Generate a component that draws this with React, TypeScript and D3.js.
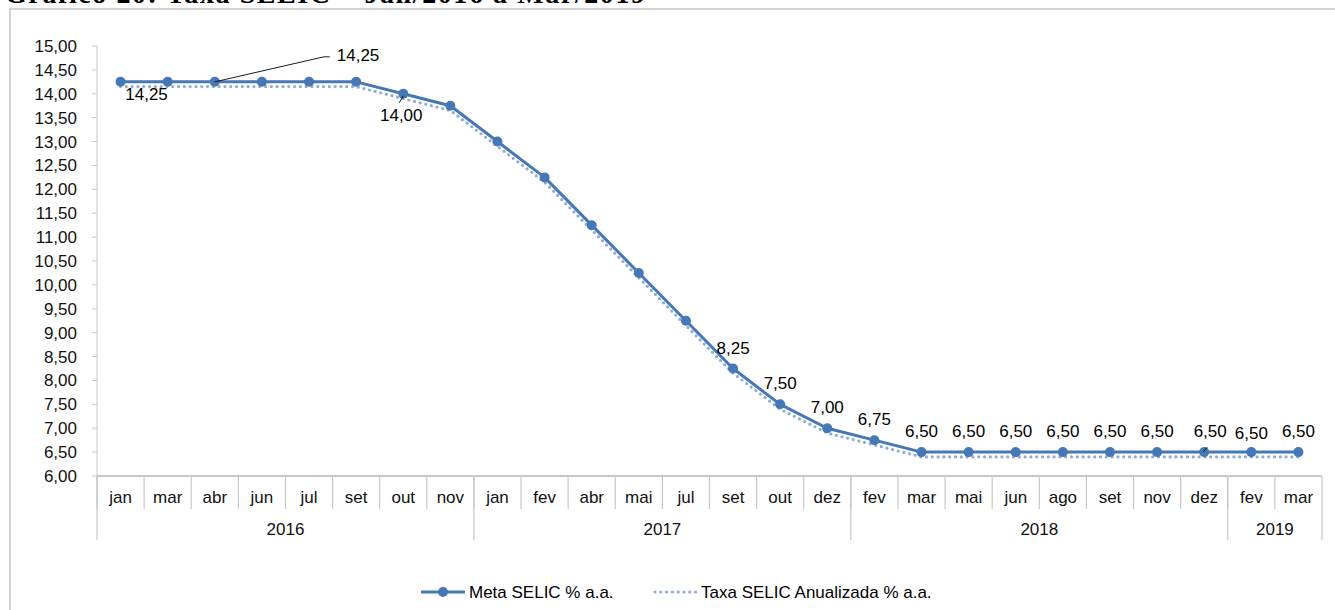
import React from "react";
import * as d3 from "d3";

// Month labels along the x axis, grouped by year
const months = [
  "jan", "mar", "abr", "jun", "jul", "set", "out", "nov",
  "jan", "fev", "abr", "mai", "jul", "set", "out", "dez",
  "fev", "mar", "mai", "jun", "ago", "set", "nov", "dez",
  "fev", "mar",
];
const years = [
  { label: "2016", start: 0, end: 8 },
  { label: "2017", start: 8, end: 16 },
  { label: "2018", start: 16, end: 24 },
  { label: "2019", start: 24, end: 26 },
];

// Meta SELIC % a.a. (Copom decisions)
const metaSelic = [
  14.25, 14.25, 14.25, 14.25, 14.25, 14.25, 14.0, 13.75,
  13.0, 12.25, 11.25, 10.25, 9.25, 8.25, 7.5, 7.0,
  6.75, 6.5, 6.5, 6.5, 6.5, 6.5, 6.5, 6.5,
  6.5, 6.5,
];
// Taxa SELIC anualizada % a.a.
const taxaSelic = [
  14.15, 14.15, 14.15, 14.15, 14.15, 14.15, 13.9, 13.65,
  12.9, 12.15, 11.15, 10.15, 9.15, 8.15, 7.4, 6.9,
  6.65, 6.4, 6.4, 6.4, 6.4, 6.4, 6.4, 6.4,
  6.4, 6.4,
];

const yTicks = d3.range(6, 15.001, 0.5);

// Data label placement (offsets from the marker)
type Note = { i: number; dx: number; dy: number; anchor?: string; leader?: number[][] };
const notes: Note[] = [
  { i: 0, dx: 26, dy: 18 },
  { i: 2, dx: 122, dy: -21, anchor: "start", leader: [[0, 0], [109, -25], [115, -25]] },
  { i: 6, dx: -2, dy: 27, leader: [[0, 2], [-4, 9]] },
  { i: 13, dx: 0, dy: -15 },
  { i: 14, dx: 0, dy: -15 },
  { i: 15, dx: 0, dy: -15 },
  { i: 16, dx: 0, dy: -15 },
  { i: 17, dx: 0, dy: -15 },
  { i: 18, dx: 0, dy: -15 },
  { i: 19, dx: 0, dy: -15 },
  { i: 20, dx: 0, dy: -15 },
  { i: 21, dx: 0, dy: -15 },
  { i: 22, dx: 0, dy: -15 },
  { i: 23, dx: 6, dy: -15, leader: [[3, -5], [-1, 0]] },
  { i: 24, dx: 0, dy: -13 },
  { i: 25, dx: 0, dy: -15 },
];

const W = 1335;
const H = 610;
const left = 97;
const right = 1322;
const top = 46;
const bottom = 476;

const FONT = "'Liberation Sans', Arial, sans-serif";
const SOLID = "#4677b6";
const DOTTED = "#8eaad8";
const AXIS = "#c8c8c8";

const fmt = (v: number) => d3.format(".2f")(v).replace(".", ",");

export default function App() {
  const idx = months.map((_, i) => i);
  const x = d3.scaleBand<number>().domain(idx).range([left, right]).padding(0);
  const y = d3.scaleLinear().domain([6, 15]).range([bottom, top]);
  const cx = (i: number) => (x(i) as number) + x.bandwidth() / 2;

  const line = d3
    .line<number>()
    .x((_, i) => cx(i))
    .y((d) => y(d));

  return (
    <svg
      width={W}
      height={H}
      style={{ position: "absolute", left: 0, top: 0, background: "#fff" }}
      fontFamily={FONT}
    >
      {/* title, partly above the visible page */}
      <text
        x={5}
        y={3}
        fontFamily="'Liberation Serif', 'Times New Roman', serif"
        fontWeight="bold"
        fontSize={28}
        textLength={640}
        lengthAdjust="spacing"
        fill="#000"
      >
        Gráfico 20: Taxa SELIC – Jan/2016 a Mar/2019
      </text>

      {/* chart frame */}
      <rect x={10} y={9} width={W + 20} height={H + 20} fill="none" stroke="#c4c4c4" strokeWidth={1.5} />

      {/* y axis */}
      <line x1={left} x2={left} y1={top} y2={bottom} stroke={AXIS} strokeWidth={1} />
      {yTicks.map((t) => (
        <g key={t}>
          <line x1={left - 5} x2={left} y1={y(t)} y2={y(t)} stroke={AXIS} strokeWidth={1} />
          <text x={77} y={y(t)} dy="0.35em" textAnchor="end" fontSize={17} fill="#111">
            {fmt(t)}
          </text>
        </g>
      ))}

      {/* x axis with month and year rows */}
      {idx.map((i) => (
        <g key={i}>
          <line x1={x(i)} x2={x(i)} y1={bottom} y2={509} stroke={AXIS} strokeWidth={1.2} />
          <text x={cx(i)} y={503} textAnchor="middle" fontSize={17} fill="#111">
            {months[i]}
          </text>
        </g>
      ))}
      {years.map((yr) => (
        <g key={yr.label}>
          <line x1={x(yr.start)} x2={x(yr.start)} y1={bottom} y2={540} stroke={AXIS} strokeWidth={1.2} />
          <text
            x={((x(yr.start) as number) + (x(yr.end - 1) as number) + x.bandwidth()) / 2}
            y={535}
            textAnchor="middle"
            fontSize={17}
            fill="#111"
          >
            {yr.label}
          </text>
        </g>
      ))}
      <line x1={right} x2={right} y1={bottom} y2={540} stroke={AXIS} strokeWidth={1.2} />
      <line x1={left} x2={right} y1={bottom} y2={bottom} stroke={AXIS} strokeWidth={2} />

      {/* Taxa SELIC anualizada (dotted) */}
      <path
        d={line(taxaSelic) || ""}
        fill="none"
        stroke={DOTTED}
        strokeWidth={3.2}
        strokeDasharray="0 5.8"
        strokeLinecap="round"
      />

      {/* Meta SELIC (solid with markers) */}
      <path d={line(metaSelic) || ""} fill="none" stroke={SOLID} strokeWidth={3} strokeLinejoin="round" />
      {metaSelic.map((v, i) => (
        <circle key={i} cx={cx(i)} cy={y(v)} r={5} fill={SOLID} />
      ))}

      {/* data labels */}
      {notes.map((n) => {
        const px = cx(n.i);
        const py = y(metaSelic[n.i]);
        return (
          <g key={n.i}>
            {n.leader && (
              <polyline
                points={n.leader.map(([a, b]) => `${px + a},${py + b}`).join(" ")}
                fill="none"
                stroke="#000"
                strokeWidth={0.9}
              />
            )}
            <text
              x={px + n.dx}
              y={py + n.dy}
              textAnchor={n.anchor || "middle"}
              fontSize={17}
              fill="#000"
            >
              {fmt(metaSelic[n.i])}
            </text>
          </g>
        );
      })}

      {/* legend */}
      <g>
        <line x1={421} x2={465} y1={592} y2={592} stroke={SOLID} strokeWidth={3} />
        <circle cx={443} cy={592} r={5} fill={SOLID} />
        <text x={469} y={592} dy="0.35em" fontSize={17} fill="#000">
          Meta SELIC % a.a.
        </text>
        <line
          x1={655}
          x2={696}
          y1={592}
          y2={592}
          stroke={DOTTED}
          strokeWidth={3.2}
          strokeDasharray="0 5.8"
          strokeLinecap="round"
        />
        <text x={701} y={592} dy="0.35em" fontSize={17} fill="#000">
          Taxa SELIC Anualizada % a.a.
        </text>
      </g>
    </svg>
  );
}
